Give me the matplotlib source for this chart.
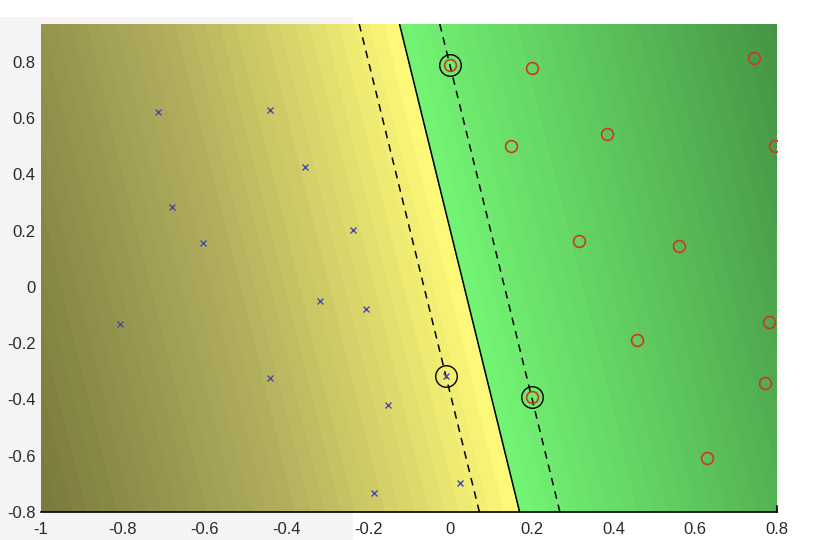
import numpy as np
import matplotlib.pyplot as plt
from matplotlib.colors import LinearSegmentedColormap, Normalize
from matplotlib.patches import Rectangle

# class -1 samples (blue crosses)
negX = [-0.714, -0.440, -0.355, -0.680, -0.604, -0.237, -0.807, -0.318, -0.205,
        -0.440, -0.152, -0.186, -0.010, 0.024]
negY = [0.623, 0.630, 0.428, 0.283, 0.156, 0.202, -0.131, -0.050, -0.078,
        -0.322, -0.421, -0.733, -0.315, -0.697]
# class +1 samples (red circles)
posX = [0.000, 0.200, 0.743, 0.149, 0.385, 0.796, 0.315, 0.560, 0.780,
        0.457, 0.771, 0.200, 0.628]
posY = [0.789, 0.780, 0.814, 0.502, 0.545, 0.502, 0.163, 0.145, -0.124,
        -0.188, -0.343, -0.392, -0.608]
# support vectors: x, y, label
svX = [0.000, 0.200, -0.010]
svY = [0.789, -0.392, -0.315]
svLabel = [1, 1, -1]

xTicks = [-1, -0.8, -0.6, -0.4, -0.2, 0, 0.2, 0.4, 0.6, 0.8]
xTickLabels = ['-1', '-0.8', '-0.6', '-0.4', '-0.2', '0', '0.2', '0.4', '0.6', '0.8']
yTicks = [-0.8, -0.6, -0.4, -0.2, 0, 0.2, 0.4, 0.6, 0.8]
yTickLabels = ['-0.8', '-0.6', '-0.4', '-0.2', '0', '0.2', '0.4', '0.6', '0.8']

# hyperplane through the support vectors (w.x + b = label)
A = np.column_stack([svX, svY, np.ones(3)])
w1, w2, b = np.linalg.solve(A, np.array(svLabel, dtype=float))

xx, yy = np.meshgrid(np.linspace(-1, 0.8, 400), np.linspace(-0.8, 0.935, 400))
ff = w1 * xx + w2 * yy + b

vmin, vmax = -12.2, 9.6
z0 = -vmin / (vmax - vmin)
cmap = LinearSegmentedColormap.from_list('svm', [
    (0.0, '#76763c'), (z0 * 0.55, '#b4b25e'), (z0, '#fffa78'),
    (z0, '#74f574'), (1.0, '#449244')])

plt.rcParams['font.family'] = ['Liberation Sans', 'DejaVu Sans']
fig = plt.figure(figsize=(8.22, 5.4), dpi=100, facecolor='white')
fig.patches.append(Rectangle((0, 0), 353 / 822, 523 / 540, transform=fig.transFigure,
                             facecolor='#f4f4f4', edgecolor='none', zorder=-1))
ax = fig.add_axes([41 / 822, 28 / 540, 736 / 822, 488 / 540])

ax.contourf(xx, yy, ff, levels=np.linspace(vmin, vmax, 60), cmap=cmap,
            norm=Normalize(vmin, vmax))
ax.contour(xx, yy, ff, levels=[0], colors='black', linewidths=1.1)
ax.contour(xx, yy, ff, levels=[-1, 1], colors='black', linewidths=1.1,
           linestyles=[(0, (5, 4))])

ax.plot(negX, negY, 'x', color='#4a4aa8', markersize=5, markeredgewidth=1)
ax.plot(posX, posY, 'o', color='#cc3a1c', markersize=8.5, markerfacecolor='none',
        markeredgewidth=1.2)
ax.plot(svX, svY, 'o', color='black', markersize=15.5, markerfacecolor='none',
        markeredgewidth=1)

ax.set_xlim(-1, 0.8)
ax.set_ylim(-0.8, 0.935)
ax.set_xticks(xTicks, xTickLabels)
ax.set_yticks(yTicks, yTickLabels)
ax.tick_params(length=0, labelsize=12, labelcolor='#2a2a2a')
ax.tick_params(axis='x', pad=7)
ax.tick_params(axis='y', pad=4)
for s in ['top', 'right', 'left']:
    ax.spines[s].set_visible(False)
ax.spines['bottom'].set_linewidth(1.2)
ax.plot([0.8, 0.8], [-0.8, -0.78], color='black', lw=1.2, clip_on=False)

fig.savefig('out.png', dpi=100, facecolor=fig.get_facecolor())
